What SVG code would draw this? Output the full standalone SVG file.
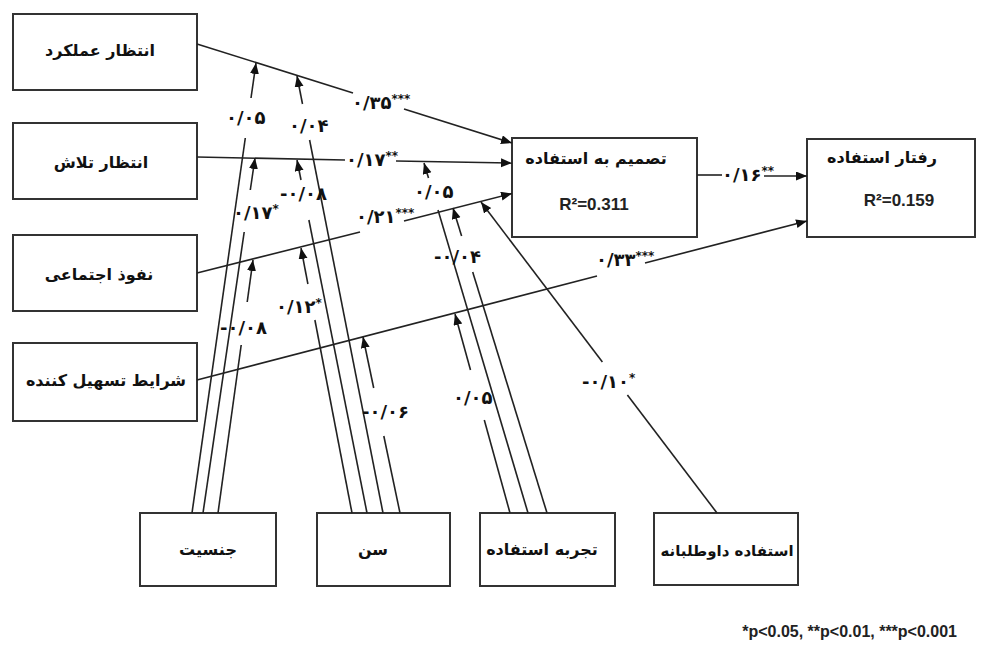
<svg xmlns="http://www.w3.org/2000/svg" width="981" height="652" viewBox="0 0 981 652">
<style>
.box{fill:#fff;stroke:#333;stroke-width:2}
.nt{font-family:"DejaVu Sans","Noto Sans",sans-serif;font-weight:bold;font-size:16px;fill:#111;text-anchor:middle}
.rt{font-family:"Liberation Sans",Arial,sans-serif;font-weight:bold;font-size:17px;fill:#222;text-anchor:middle}
.ln{stroke:#222;stroke-width:1.6;fill:none}
.lb{font-family:"DejaVu Sans","Noto Sans",sans-serif;font-weight:bold;font-size:18px;fill:#111}
.st{font-size:12px}
.fn{font-family:"Liberation Sans",Arial,sans-serif;font-weight:bold;font-size:16px;fill:#222;text-anchor:end}
</style>
<defs>
<marker id="ah" markerUnits="userSpaceOnUse" markerWidth="12" markerHeight="10" refX="11" refY="4.5" orient="auto">
<path d="M0,0 L11,4.5 L0,9 z" fill="#111"/>
</marker>
</defs>
<rect width="981" height="652" fill="#fff"/>

<g id="n-performance"><rect class="box" x="13" y="14" width="184" height="76"/><text class="nt" x="100" y="56">انتظار عملکرد</text></g>
<g id="n-effort"><rect class="box" x="13" y="123" width="184" height="76"/><text class="nt" x="101" y="168">انتظار تلاش</text></g>
<g id="n-social"><rect class="box" x="13" y="235" width="184" height="76"/><text class="nt" x="99" y="280">نفوذ اجتماعی</text></g>
<g id="n-facilitating"><rect class="box" x="13" y="343" width="184" height="78"/><text class="nt" x="106" y="386">شرایط تسهیل کننده</text></g>
<g id="n-intention"><rect class="box" x="512" y="138" width="185" height="99"/><text class="nt" x="596" y="164">تصمیم به استفاده</text><text class="rt" x="594" y="210">R²=0.311</text></g>
<g id="n-behavior"><rect class="box" x="807" y="139" width="168" height="98"/><text class="nt" x="882" y="163">رفتار استفاده</text><text class="rt" x="899" y="206">R²=0.159</text></g>
<g id="n-gender"><rect class="box" x="140" y="513" width="136" height="73"/><text class="nt" x="208" y="555">جنسیت</text></g>
<g id="n-age"><rect class="box" x="317" y="513" width="133" height="73"/><text class="nt" x="373" y="555">سن</text></g>
<g id="n-experience"><rect class="box" x="480" y="513" width="135" height="73"/><text class="nt" x="542" y="555">تجربه استفاده</text></g>
<g id="n-voluntariness"><rect class="box" x="654" y="513" width="144" height="72"/><text class="nt" x="727" y="556" style="font-size:15px">استفاده داوطلبانه</text></g>

<g id="connectors">
<!-- main paths -->
<path class="ln" d="M197,44 L353,93"/><path class="ln" d="M404,109 L512,143" marker-end="url(#ah)"/>
<path class="ln" d="M197,157 L345,160"/><path class="ln" d="M396,161 L512,163" marker-end="url(#ah)"/>
<path class="ln" d="M197,273 L360,232"/><path class="ln" d="M404,221 L512,193.5" marker-end="url(#ah)"/>
<path class="ln" d="M197,380 L597,276"/><path class="ln" d="M645,263 L807,221" marker-end="url(#ah)"/>
<path class="ln" d="M697,175 L722,175"/><path class="ln" d="M764,176 L807,176" marker-end="url(#ah)"/>
<!-- gender -->
<path class="ln" d="M192,513 L245.3,138"/><path class="ln" d="M251,98 L256,63" marker-end="url(#ah)"/>
<path class="ln" d="M203,513 L244.2,232"/><path class="ln" d="M250.3,190 L255,158" marker-end="url(#ah)"/>
<path class="ln" d="M218,513 L241.2,345"/><path class="ln" d="M247.2,302 L253,260" marker-end="url(#ah)"/>
<!-- age -->
<path class="ln" d="M383,513 L309.6,140"/><path class="ln" d="M302.5,104 L297,76" marker-end="url(#ah)"/>
<path class="ln" d="M367,513 L308.9,220"/><path class="ln" d="M301,180 L297,160" marker-end="url(#ah)"/>
<path class="ln" d="M352,513 L314.9,320"/><path class="ln" d="M307.9,284 L301,248" marker-end="url(#ah)"/>
<path class="ln" d="M400,513 L383.8,436"/><path class="ln" d="M373.7,388 L363,337" marker-end="url(#ah)"/>
<!-- experience -->
<path class="ln" d="M510,513 L484.3,420"/><path class="ln" d="M470.5,370 L455,314" marker-end="url(#ah)"/>
<path class="ln" d="M528,513 L438,210"/><path class="ln" d="M428.5,178 L424,163" marker-end="url(#ah)"/>
<path class="ln" d="M547,513 L472.7,272"/><path class="ln" d="M461.6,236 L453,208" marker-end="url(#ah)"/>
<!-- voluntariness -->
<path class="ln" d="M717,513 L627.4,395"/><path class="ln" d="M602.4,362 L481,202" marker-end="url(#ah)"/>
</g>

<g id="labels">
<text class="lb" x="352" y="109">۰/۳۵<tspan class="st" dy="-6">***</tspan></text>
<text class="lb" x="346" y="166">۰/۱۷<tspan class="st" dy="-6">**</tspan></text>
<text class="lb" x="356" y="223">۰/۲۱<tspan class="st" dy="-6">***</tspan></text>
<text class="lb" x="596" y="266">۰/۳۳<tspan class="st" dy="-6">***</tspan></text>
<text class="lb" x="722" y="181">۰/۱۶<tspan class="st" dy="-6">**</tspan></text>
<text class="lb" x="226" y="124">۰/۰۵</text>
<text class="lb" x="233" y="219">۰/۱۷<tspan class="st" dy="-6">*</tspan></text>
<text class="lb" x="220" y="334">-۰/۰۸</text>
<text class="lb" x="289" y="132">۰/۰۴</text>
<text class="lb" x="280" y="200">-۰/۰۸</text>
<text class="lb" x="276" y="313">۰/۱۲<tspan class="st" dy="-6">*</tspan></text>
<text class="lb" x="362" y="418">-۰/۰۶</text>
<text class="lb" x="453" y="404">۰/۰۵</text>
<text class="lb" x="414" y="198">۰/۰۵</text>
<text class="lb" x="434" y="263">-۰/۰۴</text>
<text class="lb" x="582" y="388">-۰/۱۰<tspan class="st" dy="-6">*</tspan></text>
</g>
<text class="fn" x="957" y="637">*p&lt;0.05, **p&lt;0.01, ***p&lt;0.001</text>
</svg>
